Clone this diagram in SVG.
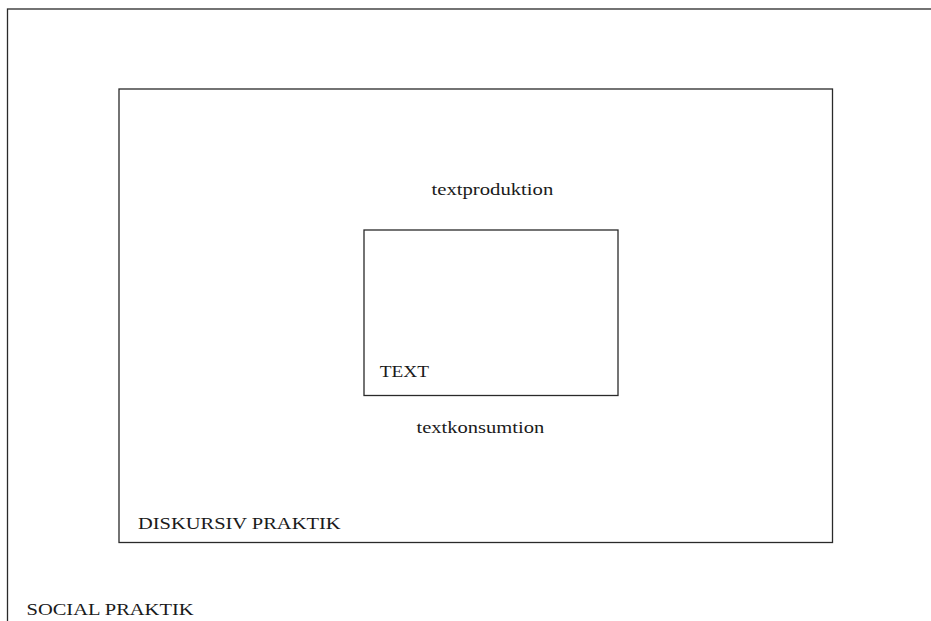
<svg xmlns="http://www.w3.org/2000/svg" width="931" height="621" viewBox="0 0 931 621">
<style>
.box{fill:none;stroke:#2a2a2a;stroke-width:1.3}
.lbl{font-family:"Liberation Serif","Times New Roman",serif;font-size:17px;fill:#1a1a1a}
</style>
<rect width="931" height="621" fill="#ffffff"/>
<g id="social-praktik">
<rect class="box" x="7.5" y="9" width="930" height="620"/>
<text class="lbl" x="26.5" y="615" textLength="167" lengthAdjust="spacingAndGlyphs">SOCIAL PRAKTIK</text>
</g>
<g id="diskursiv-praktik">
<rect class="box" x="119" y="89" width="713.5" height="453.5"/>
<text class="lbl" x="138" y="529.3" textLength="202.5" lengthAdjust="spacingAndGlyphs">DISKURSIV PRAKTIK</text>
<text class="lbl" x="431.5" y="194.5" textLength="121.8" lengthAdjust="spacingAndGlyphs">textproduktion</text>
<text class="lbl" x="416.5" y="432.7" textLength="127.8" lengthAdjust="spacingAndGlyphs">textkonsumtion</text>
</g>
<g id="text">
<rect class="box" x="364" y="230" width="254" height="165.5"/>
<text class="lbl" x="379.8" y="377.3" textLength="49.2" lengthAdjust="spacingAndGlyphs">TEXT</text>
</g>
<g id="connectors"/>
</svg>
